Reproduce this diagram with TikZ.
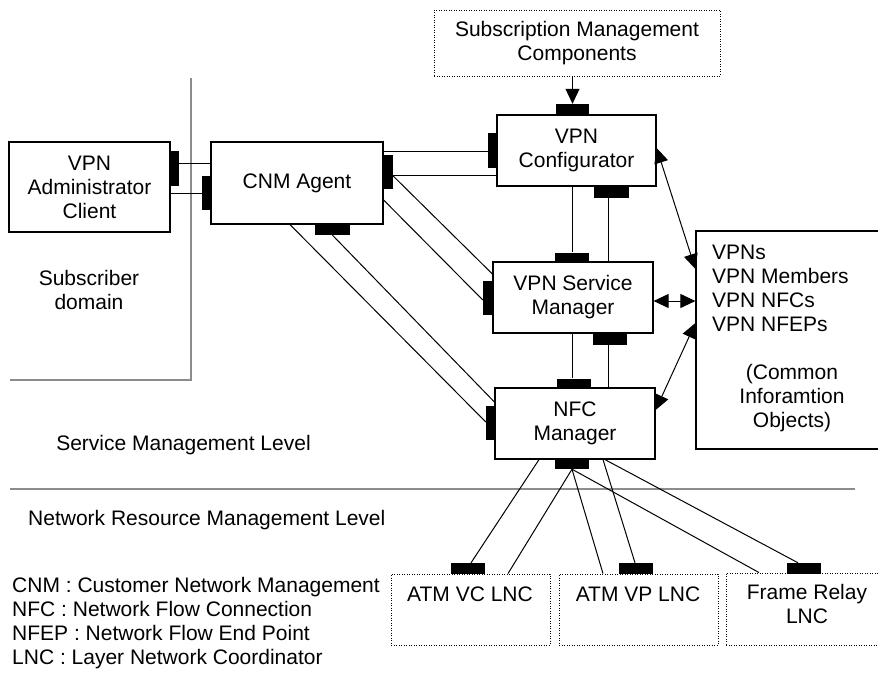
\documentclass[tikz,border=0pt]{standalone}
\usepackage{fontspec}
\setmainfont{Liberation Sans}
\usetikzlibrary{arrows.meta}
\begin{document}
\begin{tikzpicture}[x=1pt,y=-1pt,
  font=\fontsize{21}{24}\selectfont,
  box/.style={draw, line width=1.2pt, inner sep=0pt, align=center},
  dbox/.style={draw, dash pattern=on 0.9pt off 1.6pt, line width=0.9pt, inner sep=0pt},
  port/.style={fill=black, inner sep=0pt},
  link/.style={line width=1pt},
  rule/.style={draw={rgb,255:red,140;green,140;blue,140}, line width=1.4pt},
  tip/.tip={Triangle[length=15pt,width=14pt]},
  twoway/.style={line width=1pt, tip-tip},
  oneway/.style={line width=1pt, -tip},
  txt/.style={inner sep=0pt, align=center}
]
\useasboundingbox (0,0) rectangle (878,673);
\clip (0,0) rectangle (878,673);

% domain and level separators
\draw[rule] (191,78) -- (191,380) -- (10,380);
\draw[rule] (10,489) -- (855,489);

% functional blocks
\node[dbox, minimum width=286pt, minimum height=66pt, align=center] (subm) at (577,43)
  {Subscription Management\\Components};
\node[box, minimum width=161pt, minimum height=90pt] (client) at (89.5,187)
  {VPN\\Administrator\\Client};
\node[box, minimum width=172pt, minimum height=82pt] (cnm) at (297,183) {CNM Agent};
\node[box, minimum width=159pt, minimum height=71pt] (conf) at (576.5,150.5)
  {VPN\\Configurator};
\node[box, minimum width=160pt, minimum height=71pt] (vsm) at (573,297.5)
  {VPN Service\\Manager};
\node[box, minimum width=160pt, minimum height=71pt] (nfc) at (575,423.5)
  {NFC\\Manager};
\node[box, minimum width=192pt, minimum height=218pt] (info) at (792,340) {};
\node[txt, anchor=west, align=left] (infolist) at (712,288.5)
  {VPNs\\VPN Members\\VPN NFCs\\VPN NFEPs};
\node[txt] (infonote) at (792,398.5) {(Common\\Inforamtion\\Objects)};

% layer network coordinators
\node[dbox, minimum width=159pt, minimum height=71pt] (vc) at (470.5,609.5) {};
\node[dbox, minimum width=159pt, minimum height=71pt] (vp) at (638.5,609.5) {};
\node[dbox, minimum width=160pt, minimum height=72pt] (fr) at (806,609) {};
\node[txt] (vctext) at (470,594) {ATM VC LNC};
\node[txt] (vptext) at (638,594) {ATM VP LNC};
\node[txt, anchor=north] (frtext) at (807,584) {Frame Relay\\LNC};

% free text
\node[txt] (subdom) at (89,290) {Subscriber\\domain};
\node[txt] (smlevel) at (183.5,445) {Service Management Level};
\node[txt, anchor=west] (nrmlevel) at (28,520) {Network Resource Management Level};
\node[txt, anchor=west, align=left] (legend) at (12,623)
  {CNM : Customer Network Management\\NFC : Network Flow Connection\\NFEP : Network Flow End Point\\LNC : Layer Network Coordinator};

% interface ports
\node[port, minimum width=9pt,  minimum height=35pt] (clientP) at (174.5,168.5) {};
\node[port, minimum width=9pt,  minimum height=34pt] (cnmL)    at (206.5,193) {};
\node[port, minimum width=10pt, minimum height=34pt] (cnmR)    at (388,172) {};
\node[port, minimum width=35pt, minimum height=11pt] (cnmB)    at (332.5,229.5) {};
\node[port, minimum width=9pt,  minimum height=35pt] (confL)   at (492.5,150.5) {};
\node[port, minimum width=33pt, minimum height=11pt] (confT)   at (572.5,109.5) {};
\node[port, minimum width=35pt, minimum height=12pt] (confB)   at (611.5,192) {};
\node[port, minimum width=10pt, minimum height=34pt] (vsmL)    at (488,298) {};
\node[port, minimum width=34pt, minimum height=10pt] (vsmT)    at (572,257.5) {};
\node[port, minimum width=34pt, minimum height=12pt] (vsmB)    at (610,339) {};
\node[port, minimum width=34pt, minimum height=10pt] (nfcT)    at (574,383.5) {};
\node[port, minimum width=9pt,  minimum height=34pt] (nfcL)    at (490.5,423) {};
\node[port, minimum width=34pt, minimum height=10pt] (nfcB)    at (572,464) {};
\node[port, minimum width=34pt, minimum height=11pt] (vcP)     at (468,568.5) {};
\node[port, minimum width=34pt, minimum height=11pt] (vpP)     at (636,568.5) {};
\node[port, minimum width=34pt, minimum height=11pt] (frP)     at (804,568.5) {};

% client <-> CNM agent
\draw[link] (clientP.east |- 0,163) -- (cnm.west |- 0,163);
\draw[link] (client.east |- 0,193) -- (cnmL.west |- 0,193);

% CNM agent <-> configurator
\draw[link] (cnm.east |- 0,151) -- (confL.west |- 0,151);
\draw[link] (cnmR.east |- 0,175) -- (conf.west |- 0,175);

% CNM agent <-> service manager
\draw[link] (cnmR.east |- 0,176) -- (vsm.west |- 0,274);
\draw[link] (cnm.east |- 0,200) -- (vsmL.west |- 0,300);

% CNM agent <-> NFC manager
\draw[link] (290,0 |- cnm.south) -- (nfcL.west |- 0,422);
\draw[link] (cnmB.south) -- (nfc.west |- 0,402);

% subscription management -> configurator
\draw[oneway] (subm.south -| confT.north) -- (confT.north);

% configurator <-> service manager <-> NFC manager
\draw[link] (572,0 |- conf.south) -- (572,0 |- vsmT.north);
\draw[link] (608,0 |- confB.south) -- (608,0 |- vsm.north);
\draw[link] (572,0 |- vsm.south) -- (572,0 |- nfcT.north);
\draw[link] (608,0 |- vsmB.south) -- (608,0 |- nfc.north);

% access to the common information objects
\draw[twoway] (conf.east |- 0,148) -- (info.west |- 0,269);
\draw[twoway] (vsm.east |- 0,301) -- (info.west |- 0,301);
\draw[twoway] (nfc.east |- 0,410) -- (info.west |- 0,323);

% NFC manager <-> layer network coordinators
\draw[link] (539,0 |- nfc.south) -- (471,0 |- vcP.north);
\draw[link] (nfcB.south) -- (508,0 |- vc.north);
\draw[link] (nfcB.south) -- (603,0 |- vp.north);
\draw[link] (603,0 |- nfc.south) -- (635,0 |- vpP.north);
\draw[link] (nfcB.south) -- (759,0 |- fr.north);
\draw[link] (605,0 |- nfc.south) -- (798,0 |- frP.north);
\end{tikzpicture}
\end{document}
